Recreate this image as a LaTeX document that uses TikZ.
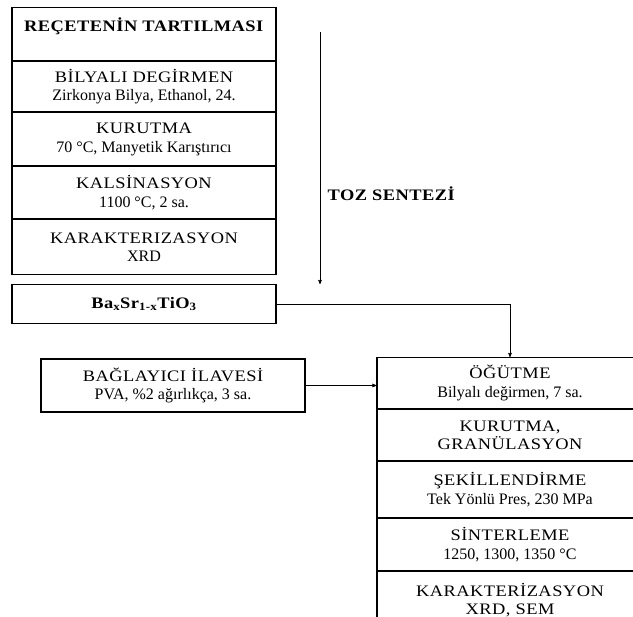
\documentclass[tikz,border=0pt]{standalone}
\usepackage{fontspec}
\setmainfont{Liberation Serif}
\usetikzlibrary{arrows,positioning}
\newcommand{\capt}[1]{{\addfontfeature{FakeStretch=1.15,LetterSpace=3}#1}}

\begin{document}
\begin{tikzpicture}[x=1pt, y=-1pt, ->, >=stealth', semithick, node distance=0pt]
\tikzstyle{every node}=[font=\fontsize{16}{18.5}\selectfont]
\tikzstyle{lstep}=[rectangle,draw=black,line width=1.1pt,align=center,minimum width=264pt,inner sep=1pt]
\tikzstyle{rstep}=[rectangle,draw=black,line width=1.1pt,align=center,minimum width=266pt,inner sep=1pt]
\useasboundingbox (0,0) rectangle (633,617);
\clip (0,0) rectangle (633,617);
% toz sentezi
\node[lstep,minimum height=53pt,anchor=north] (REC) at (144,7) {\textbf{\capt{REÇETENİN TARTILMASI}}\\ \mbox{}};
\node[lstep,minimum height=50pt] (BIL)[below=of REC] {\capt{BİLYALI DEGİRMEN}\\Zirkonya Bilya, Ethanol, 24.};
\node[lstep,minimum height=53pt] (KUR)[below=of BIL] {\capt{KURUTMA}\\70 °C, Manyetik Karıştırıcı};
\node[lstep,minimum height=52pt] (KAL)[below=of KUR] {\capt{KALSİNASYON}\\1100 °C, 2 sa.};
\node[lstep,minimum height=55pt] (KAR)[below=of KAL] {\capt{KARAKTERIZASYON}\\XRD};
\node[lstep,minimum height=39pt,anchor=north] (BST) at (144,284) {\textbf{\capt{Ba\textsubscript{x}Sr\textsubscript{1-x}TiO\textsubscript{3}}}};
% sekillendirme ve sinterleme
\node[lstep,minimum width=264pt,minimum height=53pt] (BAG) at (173,385.5) {\capt{BAĞLAYICI İLAVESİ}\\PVA, \%2 ağırlıkça, 3 sa.};
\node[rstep,minimum height=51pt,anchor=north] (OGT) at (510,357) {\capt{ÖĞÜTME}\\Bilyalı değirmen, 7 sa.};
\node[rstep,minimum height=51pt] (GRA)[below=of OGT] {\capt{KURUTMA,}\\\capt{GRANÜLASYON}};
\node[rstep,minimum height=56pt] (SEK)[below=of GRA] {\capt{ŞEKİLLENDİRME}\\Tek Yönlü Pres, 230 MPa};
\node[rstep,minimum height=52pt] (SIN)[below=of SEK] {\capt{SİNTERLEME}\\1250, 1300, 1350 °C};
\node[rstep,minimum height=56pt] (KRZ)[below=of SIN] {\capt{KARAKTERİZASYON}\\\capt{XRD, SEM}};
\coordinate (TOZ) at (320,32);
\draw (TOZ) -- node[right,pos=0.64,xshift=4pt]{\textbf{\capt{TOZ SENTEZİ}}} (TOZ |- BST.north);
\draw (BST.east) -| (OGT.north);
\draw (BAG.east) -- (BAG.east -| OGT.west);
\end{tikzpicture}
\end{document}
